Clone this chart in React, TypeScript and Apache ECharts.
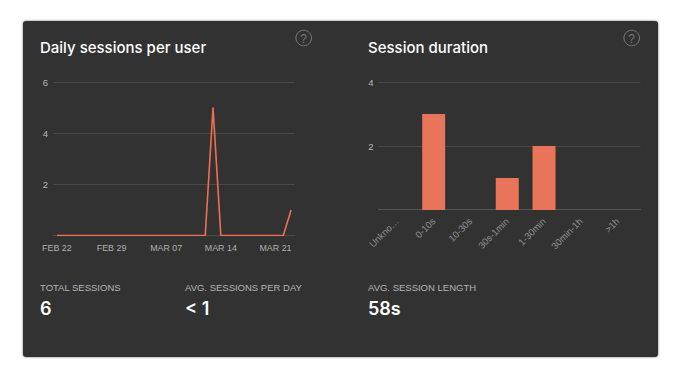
import React, { useEffect, useRef } from "react";
import * as echarts from "echarts";

const days = [
  "FEB 22","FEB 23","FEB 24","FEB 25","FEB 26","FEB 27","FEB 28","FEB 29",
  "MAR 01","MAR 02","MAR 03","MAR 04","MAR 05","MAR 06","MAR 07","MAR 08",
  "MAR 09","MAR 10","MAR 11","MAR 12","MAR 13","MAR 14","MAR 15","MAR 16",
  "MAR 17","MAR 18","MAR 19","MAR 20","MAR 21","MAR 22","MAR 23",
];
const dailySessions = [0,0,0,0,0,0,0,0,0,0,0,0,0,0,0,0,0,0,0,0,5,0,0,0,0,0,0,0,0,0,1];
const durationBuckets = ["Unkno…","0-10s","10-30s","30s-1min","1-30min","30min-1h",">1h"];
const durationCounts = [0,3,0,1,2,0,0];
const leftTicks = [2,4,6];
const rightTicks = [2,4];

const FONT = "Inter, 'Noto Sans', sans-serif";
const LABEL = "'Liberation Sans', Arial, sans-serif";

function statText(x: number, label: string, value: string) {
  return [
    { type: "text", x, y: 287, style: { text: label, fill: "#b4b4b4", font: `400 9.5px ${LABEL}`, textVerticalAlign: "middle" } },
    { type: "text", x, y: 308, style: { text: value, fill: "#ffffff", font: `600 18px ${FONT}`, textVerticalAlign: "middle" } },
  ];
}
function helpIcon(cx: number, cy: number) {
  return [
    { type: "circle", shape: { cx, cy, r: 7.8 }, style: { fill: "transparent", stroke: "#777777", lineWidth: 1 } },
    { type: "text", x: cx, y: cy + 0.5, style: { text: "?", fill: "#777777", font: `400 12px ${LABEL}`, textAlign: "center", textVerticalAlign: "middle" } },
  ];
}

export default function App() {
  const ref = useRef<HTMLDivElement>(null);
  useEffect(() => {
    document.body.style.margin = "0";
    const chart = echarts.init(ref.current!, undefined, { renderer: "svg" });
    const yLabel = { color: "#b8b8b8", fontSize: 9.5, fontFamily: LABEL, margin: 5 };
    chart.setOption({
      animation: false,
      backgroundColor: "#ffffff",
      title: [
        { text: "Daily sessions per user", left: 40, top: 40, padding: 0, textStyle: { color: "#fff", fontSize: 15, fontWeight: 500, fontFamily: FONT } },
        { text: "Session duration", left: 368, top: 40, padding: 0, textStyle: { color: "#fff", fontSize: 15, fontWeight: 500, fontFamily: FONT } },
      ],
      graphic: [
        { type: "rect", z: -10, shape: { x: 23, y: 21, width: 635, height: 336, r: 3 }, style: { fill: "#333333", shadowBlur: 2, shadowColor: "rgba(0,0,0,0.55)" } },
        ...helpIcon(303.7, 38),
        ...helpIcon(631.7, 38),
        ...statText(40, "TOTAL SESSIONS", "6"),
        ...statText(185, "AVG. SESSIONS PER DAY", "< 1"),
        ...statText(368, "AVG. SESSION LENGTH", "58s"),
      ],
      grid: [
        { left: 53, width: 242, top: 82, height: 153.5 },
        { left: 378.5, width: 257.5, top: 82, height: 128 },
        { left: 378.5, width: 262, top: 82, height: 127.5 },
      ],
      xAxis: [
        {
          type: "category", gridIndex: 0, data: days,
          axisTick: { show: false },
          axisLine: { lineStyle: { color: "#4c4c4c", width: 1 } },
          axisLabel: { interval: 6, color: "#b0b0b0", fontSize: 8.9, fontFamily: LABEL, margin: 8, hideOverlap: false },
        },
        {
          type: "category", gridIndex: 1, data: durationBuckets,
          axisTick: { show: false },
          axisLine: { show: false },
          axisLabel: { interval: 0, rotate: 45, color: "#909090", fontSize: 9.5, fontFamily: LABEL, margin: 9.5 },
        },
        {
          type: "value", gridIndex: 2, min: 0, max: 1, show: true,
          axisTick: { show: false }, axisLabel: { show: false }, splitLine: { show: false },
          axisLine: { lineStyle: { color: "#555555", width: 1 } },
        },
      ],
      yAxis: [
        {
          type: "value", gridIndex: 0, min: 0, max: 6, interval: 2,
          axisLine: { show: false }, axisTick: { show: false },
          splitLine: { lineStyle: { color: "#484848", width: 1 } },
          axisLabel: { ...yLabel, formatter: (v: number) => (leftTicks.includes(v) ? String(v) : "") },
        },
        {
          type: "value", gridIndex: 1, min: 0, max: 4, interval: 2,
          axisLine: { show: false }, axisTick: { show: false }, splitLine: { show: false },
          axisLabel: { ...yLabel, formatter: (v: number) => (rightTicks.includes(v) ? String(v) : "") },
        },
        {
          type: "value", gridIndex: 2, min: 0, max: 4, interval: 2,
          axisLine: { show: false }, axisTick: { show: false }, axisLabel: { show: false },
          splitLine: { lineStyle: { color: "#484848", width: 1 } },
        },
      ],
      series: [
        {
          type: "line", xAxisIndex: 0, yAxisIndex: 0, data: dailySessions,
          symbol: "none", lineStyle: { color: "#ef7050", width: 1.6 },
        },
        {
          type: "bar", xAxisIndex: 1, yAxisIndex: 1, data: durationCounts,
          barWidth: 23, itemStyle: { color: "#e8745a" },
        },
      ],
    });
    return () => chart.dispose();
  }, []);
  return <div ref={ref} style={{ width: 679, height: 377 }} />;
}
